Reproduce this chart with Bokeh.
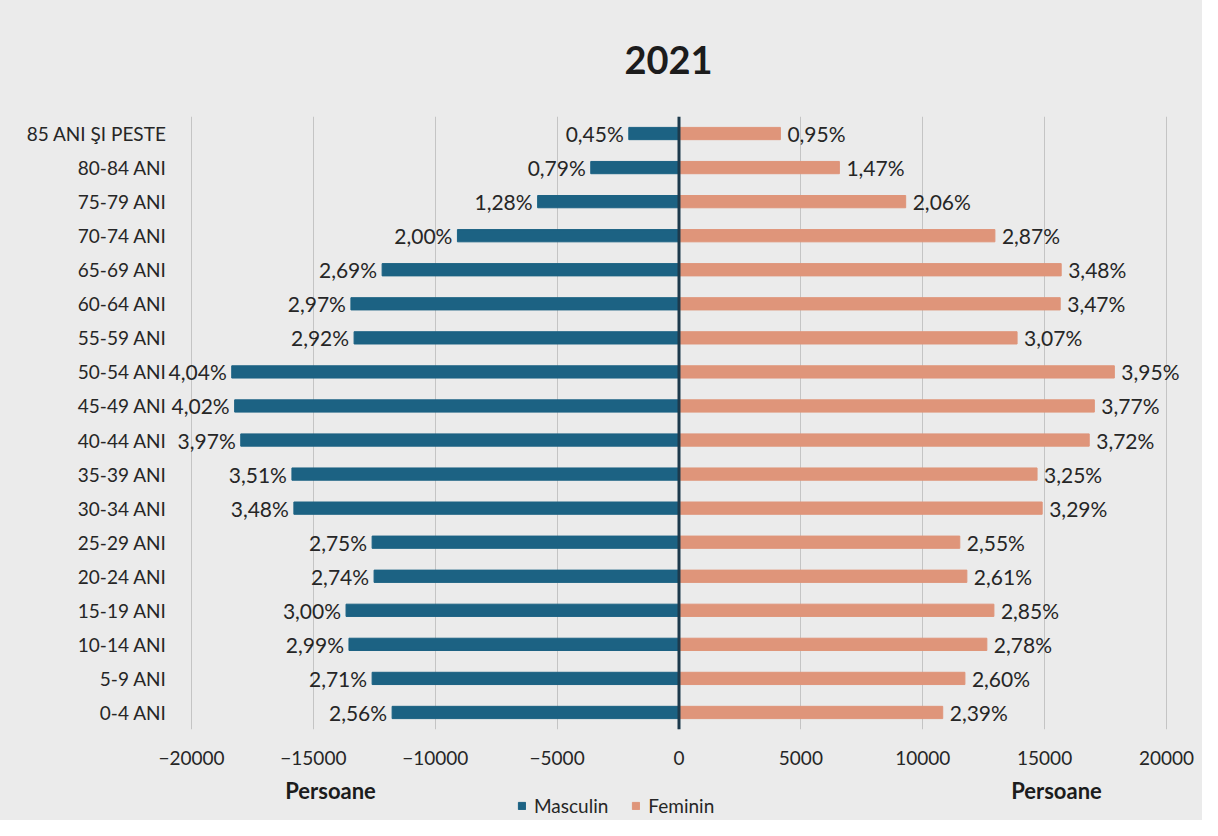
from bokeh.plotting import figure
from bokeh.layouts import column
from bokeh.models import ColumnDataSource, FixedTicker, Legend, LegendItem, Span, FactorRange, Range1d
from bokeh.core.properties import value
from bokeh.embed import file_html
from bokeh.resources import INLINE

# ---- data ----
age_groups = ["0-4 ANI", "5-9 ANI", "10-14 ANI", "15-19 ANI", "20-24 ANI", "25-29 ANI",
              "30-34 ANI", "35-39 ANI", "40-44 ANI", "45-49 ANI", "50-54 ANI", "55-59 ANI",
              "60-64 ANI", "65-69 ANI", "70-74 ANI", "75-79 ANI", "80-84 ANI", "85 ANI ŞI PESTE"]
male = [-11770, -12590, -13540, -13660, -12510, -12590, -15800, -15880, -17980, -18230,
        -18350, -13330, -13460, -12180, -9090, -5800, -3620, -2060]
female = [10820, 11730, 12630, 12920, 11810, 11520, 14900, 14690, 16830, 17040,
          17860, 13870, 15640, 15680, 12960, 9300, 6580, 4160]
male_pct = [2.56, 2.71, 2.99, 3.00, 2.74, 2.75, 3.48, 3.51, 3.97, 4.02,
            4.04, 2.92, 2.97, 2.69, 2.00, 1.28, 0.79, 0.45]
female_pct = [2.39, 2.60, 2.78, 2.85, 2.61, 2.55, 3.29, 3.25, 3.72, 3.77,
              3.95, 3.07, 3.47, 3.48, 2.87, 2.06, 1.47, 0.95]
x_ticks = [-20000, -15000, -10000, -5000, 0, 5000, 10000, 15000, 20000]
title_text = "2021"
axis_title = "Persoane"
series_names = ["Masculin", "Feminin"]

MALE_C = "#1c6283"
FEMALE_C = "#df957a"
TEXT_C = "#262626"
BG = "#ebebeb"
FONT = "Lato"
W = 1202
BL, BR = 166, 12           # borders so that -20000 / 20000 land on the reference gridlines
X0, X1 = -21026, 20985


def fmt(v):
    return f"{v:.2f}".replace(".", ",") + "%"


def bare(height):
    # column() aligns the frames, so header/footer share the main chart's x mapping
    f = figure(width=W, height=height, output_backend="svg", toolbar_location=None,
               x_range=Range1d(X0, X1), y_range=Range1d(0, 1),
               x_axis_location=None, y_axis_location=None,
               min_border_left=BL, min_border_right=BR, min_border_top=0, min_border_bottom=0)
    f.title.visible = False
    f.grid.visible = False
    f.outline_line_color = None
    f.background_fill_color = BG
    f.border_fill_color = BG
    return f


# ---- header: title ----
head = bare(80)
head.text(x=[-430], y=[0.2625], text=[title_text], text_align="center", text_baseline="middle",
          text_font=value(FONT), text_font_style="bold", text_font_size="38px", text_color="#1c1c1c")

# ---- main chart ----
src = ColumnDataSource(dict(
    age=age_groups, male=male, female=female,
    male_lbl=[fmt(v) for v in male_pct],
    female_lbl=[fmt(v) for v in female_pct],
))

p = figure(width=W, height=696, output_backend="svg", toolbar_location=None,
           y_range=FactorRange(factors=age_groups), x_range=Range1d(X0, X1),
           min_border_left=BL, min_border_right=BR, min_border_top=36, min_border_bottom=47)
p.title.visible = False
p.background_fill_color = BG
p.border_fill_color = BG
p.outline_line_color = None

p.ygrid.grid_line_color = None
p.xgrid.ticker = FixedTicker(ticks=x_ticks)
p.xgrid.grid_line_color = "#c4c4c4"
p.xgrid.grid_line_width = 1

p.xaxis.ticker = FixedTicker(ticks=x_ticks)
p.xaxis.axis_line_color = None
p.xaxis.major_tick_line_color = None
p.xaxis.minor_tick_line_color = None
p.xaxis.major_tick_out = 0
p.xaxis.major_label_standoff = 21
p.xaxis.major_label_text_font = FONT
p.xaxis.major_label_text_font_size = "19px"
p.xaxis.major_label_text_color = TEXT_C

p.yaxis.axis_line_color = None
p.yaxis.major_tick_line_color = None
p.yaxis.minor_tick_line_color = None
p.yaxis.major_tick_out = 0
p.yaxis.major_label_standoff = 0
p.yaxis.major_label_text_font = FONT
p.yaxis.major_label_text_font_size = "19px"
p.yaxis.major_label_text_color = TEXT_C

p.hbar(y="age", left=0, right="male", height=0.36, source=src, color=MALE_C)
p.hbar(y="age", left=0, right="female", height=0.36, source=src, color=FEMALE_C)

p.add_layout(Span(location=0, dimension="height", line_color="#1d3a4c", line_width=3))

p.text(x="male", y="age", text="male_lbl", source=src, x_offset=-5,
       text_align="right", text_baseline="middle", text_font=value(FONT),
       text_font_size="21px", text_color=TEXT_C)
p.text(x="female", y="age", text="female_lbl", source=src, x_offset=7,
       text_align="left", text_baseline="middle", text_font=value(FONT),
       text_font_size="21px", text_color=TEXT_C)

# ---- footer: axis titles + legend ----
foot = bare(44)
foot.text(x=[-14297, 15487], y=[0.68, 0.68], text=[axis_title, axis_title], text_align="center",
          text_baseline="middle", text_font=value(FONT), text_font_style="bold",
          text_font_size="22px", text_color="#1c1c1c")
# legend swatches: renderers kept outside the visible y range
lm = foot.rect(x=[0], y=[5], width=1, height=1, color=MALE_C)
lf = foot.rect(x=[0], y=[5], width=1, height=1, color=FEMALE_C)
legend = Legend(items=[LegendItem(label=series_names[0], renderers=[lm]),
                       LegendItem(label=series_names[1], renderers=[lf])],
                location=(351, 3), orientation="horizontal",
                background_fill_alpha=0, border_line_color=None,
                padding=0, margin=0, spacing=23, glyph_width=9, glyph_height=9,
                label_text_font=FONT, label_text_font_size="19px", label_text_color=TEXT_C,
                label_standoff=8)
foot.add_layout(legend, "center")

layout = column(head, p, foot, spacing=0, styles={"background-color": BG})
open("out.html", "w").write(file_html(layout, INLINE))
